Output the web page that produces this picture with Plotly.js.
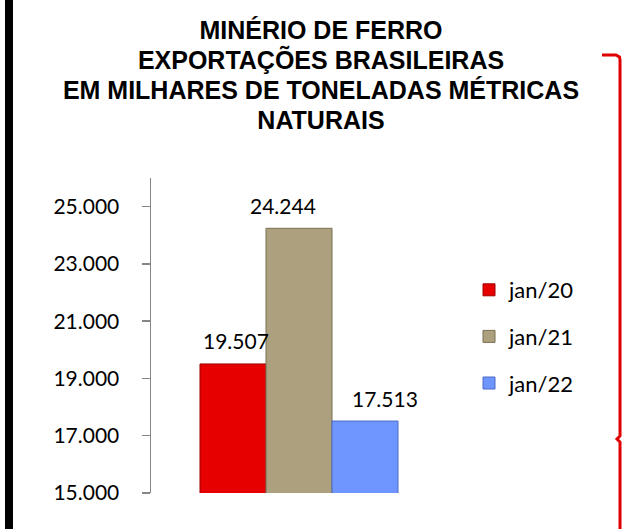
<!DOCTYPE html>
<html>
<head>
<meta charset="utf-8">
<script src="https://cdn.plot.ly/plotly-3.0.1.min.js"></script>
<style>
  html, body { margin: 0; padding: 0; background: #fff; }
  #chart { width: 624px; height: 529px; }
</style>
</head>
<body>
<div id="chart"></div>
<script>
// ---- data ----
const titleLines = ['MINÉRIO DE FERRO', 'EXPORTAÇÕES BRASILEIRAS', 'EM MILHARES DE TONELADAS MÉTRICAS', 'NATURAIS'];
const group = ['Exportações'];
const seriesNames = ['jan/20', 'jan/21', 'jan/22'];
const seriesValues = [19507, 24244, 17513];
const yTickValues = [15000, 17000, 19000, 21000, 23000, 25000];
const yRange = [15000, 26000];

// ---- styles ----
const fills = ['#E60000', '#ADA07E', '#6F96FF'];
const edges = ['#9E0000', '#7A6F52', '#4A6BC8'];
const labelShift = [-63, -16, 86];

function fmt(v) { return String(v).replace(/\B(?=(\d{3})+(?!\d))/g, '.'); }

const W = 624, H = 529;
const M = { l: 151, r: 177, t: 178, b: 36 };
const PW = W - M.l - M.r, PH = H - M.t - M.b;
const px = x => (x - M.l) / PW;
const py = y => (H - M.b - y) / PH;

const traces = seriesNames.map((n, i) => ({
  type: 'bar',
  x: group,
  y: [seriesValues[i]],
  name: n,
  legendgroup: 'g' + i,
  marker: { color: fills[i], line: { color: edges[i], width: 1 } },
  hoverinfo: 'skip'
}));

const annotations = seriesValues.map((v, i) => ({
  x: group[0], y: v, xref: 'x', yref: 'y',
  text: fmt(v), showarrow: false,
  xanchor: 'center', yanchor: 'middle',
  xshift: labelShift[i], yshift: 23,
  font: { family: 'Lato, Carlito, sans-serif', size: 21, color: '#000' }
}));

const bracePts = [[602,55],[616,55],[619.5,57],[620,60],[620,436],[617,439],[620,442],[620,531]];
const bracePath = bracePts.map((p, i) => (i ? 'L' : 'M') + px(p[0]).toFixed(4) + ',' + py(p[1]).toFixed(4)).join(' ');

const layout = {
  width: W, height: H,
  margin: M,
  paper_bgcolor: '#fff', plot_bgcolor: '#fff',
  barmode: 'group', bargap: 0.331, bargroupgap: 0,
  showlegend: true,
  title: {
    text: titleLines.map(t => '<span style="font-size:25px">' + t + '</span>').join('<br>'),
    font: { family: 'Liberation Sans, Arial, sans-serif', size: 23, color: '#000', weight: 'bold' },
    x: 321 / W, xref: 'container', xanchor: 'center',
    y: 1 - 39 / H, yref: 'container', yanchor: 'top'
  },
  xaxis: {
    type: 'category', range: [-0.5, 0.5],
    showticklabels: false, showline: false, ticks: '', showgrid: false, zeroline: false
  },
  yaxis: {
    range: yRange, tickmode: 'array', tickvals: yTickValues, ticktext: yTickValues.map(fmt),
    ticks: 'outside', ticklen: 8, tickwidth: 1.5, tickcolor: '#868686',
    showline: true, linecolor: '#868686', linewidth: 1.5,
    showgrid: false, zeroline: false, ticklabelstandoff: 18,
    tickfont: { family: 'Lato, Carlito, sans-serif', size: 21, color: '#000' }
  },
  legend: {
    x: px(469), xanchor: 'left', y: py(269), yanchor: 'top',
    font: { family: 'Lato, Carlito, sans-serif', size: 22, color: '#000' },
    tracegroupgap: 15, bgcolor: 'rgba(0,0,0,0)', borderwidth: 0
  },
  annotations: annotations,
  shapes: [
    { type: 'rect', xref: 'paper', yref: 'paper', x0: px(5), x1: px(13), y0: py(H + 2), y1: py(-2),
      fillcolor: '#000', line: { width: 0 } },
    { type: 'path', xref: 'paper', yref: 'paper', path: bracePath,
      line: { color: '#E00000', width: 3 } }
  ]
};

Plotly.newPlot('chart', traces, layout, { displayModeBar: false, staticPlot: true });
</script>
</body>
</html>
